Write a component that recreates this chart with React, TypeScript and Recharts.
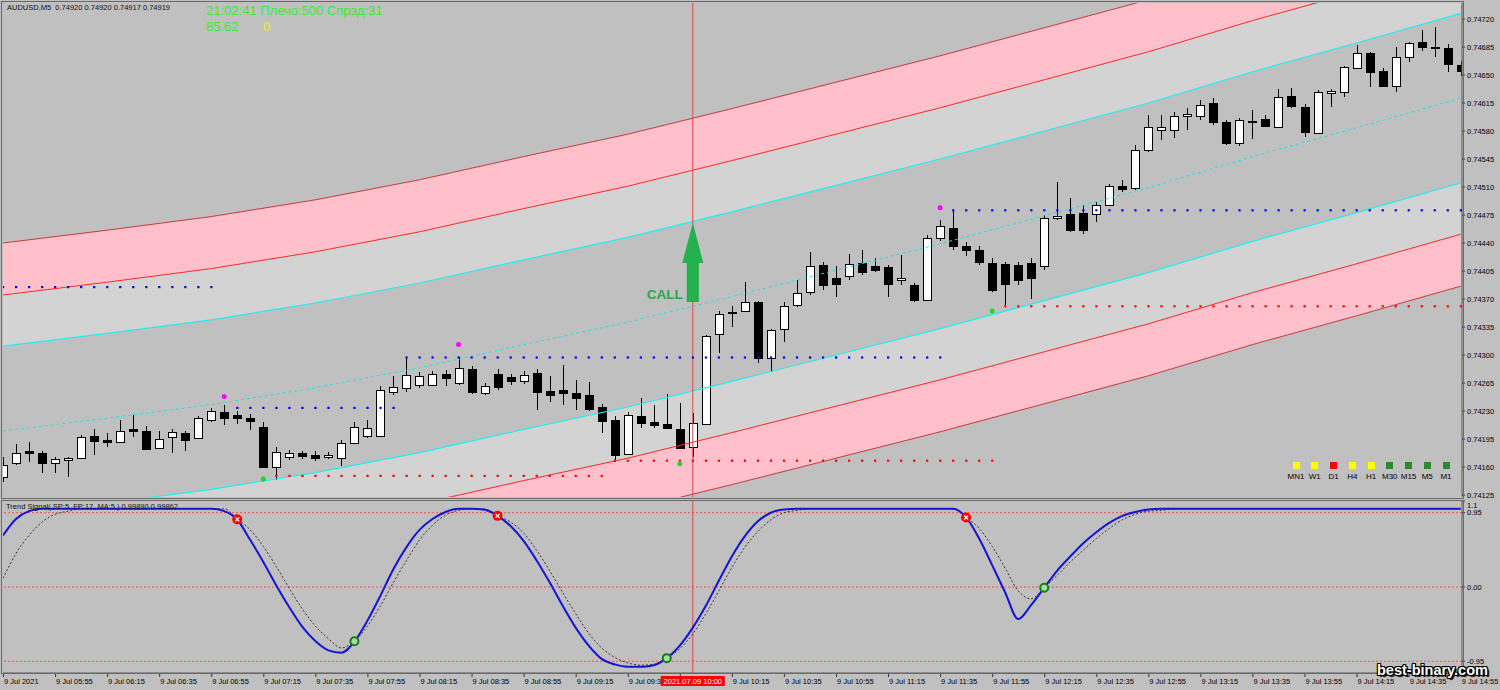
import React from 'react';
import { ComposedChart, Line, Area, Bar, Scatter, XAxis, YAxis, ReferenceLine } from 'recharts';

const FONT = '"Liberation Sans", Arial, sans-serif';

// ---------- candle data (AUDUSD M5, 05:35 .. 14:55) ----------
const openP = [0.74148,0.74165,0.74180,0.74178,0.74165,0.74169,0.74171,0.74199,0.74194,0.74191,0.74207,0.74205,0.74184,0.74197,0.74202,0.74196,0.74219,0.74229,0.74225,0.74221,0.74210,0.74160,0.74172,0.74178,0.74175,0.74172,0.74171,0.74190,0.74199,0.74199,0.74254,0.74259,0.74262,0.74262,0.74276,0.74265,0.74282,0.74252,0.74276,0.74272,0.74267,0.74277,0.74255,0.74256,0.74252,0.74250,0.74235,0.74219,0.74176,0.74224,0.74216,0.74214,0.74207,0.74185,0.74214,0.74326,0.74353,0.74355,0.74366,0.74296,0.74333,0.74362,0.74379,0.74413,0.74396,0.74399,0.74415,0.74411,0.74410,0.74394,0.74387,0.74369,0.74446,0.74459,0.74436,0.74431,0.74415,0.74414,0.74413,0.74415,0.74411,0.74471,0.74476,0.74477,0.74476,0.74487,0.74511,0.74509,0.74556,0.74581,0.74581,0.74599,0.74599,0.74615,0.74591,0.74565,0.74593,0.74595,0.74585,0.74624,0.74610,0.74577,0.74627,0.74629,0.74659,0.74677,0.74655,0.74636,0.74672,0.74691,0.74685,0.74684,0.74663];
const highP = [0.74172,0.74189,0.74191,0.74180,0.74172,0.74172,0.74200,0.74207,0.74202,0.74219,0.74225,0.74211,0.74205,0.74207,0.74205,0.74224,0.74234,0.74237,0.74230,0.74226,0.74216,0.74185,0.74181,0.74180,0.74180,0.74179,0.74194,0.74216,0.74219,0.74261,0.74274,0.74297,0.74279,0.74280,0.74281,0.74297,0.74286,0.74265,0.74282,0.74276,0.74280,0.74282,0.74274,0.74287,0.74269,0.74266,0.74239,0.74224,0.74229,0.74246,0.74237,0.74251,0.74240,0.74227,0.74325,0.74355,0.74361,0.74391,0.74368,0.74333,0.74366,0.74394,0.74429,0.74416,0.74411,0.74426,0.74431,0.74421,0.74413,0.74425,0.74390,0.74450,0.74469,0.74481,0.74441,0.74436,0.74421,0.74416,0.74416,0.74421,0.74475,0.74516,0.74496,0.74487,0.74491,0.74514,0.74519,0.74562,0.74600,0.74600,0.74604,0.74609,0.74619,0.74621,0.74594,0.74596,0.74606,0.74600,0.74632,0.74634,0.74614,0.74631,0.74632,0.74661,0.74687,0.74679,0.74659,0.74685,0.74691,0.74706,0.74710,0.74689,0.74668];
const lowP = [0.74141,0.74163,0.74166,0.74152,0.74152,0.74147,0.74170,0.74175,0.74185,0.74190,0.74197,0.74181,0.74182,0.74178,0.74180,0.74195,0.74216,0.74212,0.74214,0.74206,0.74159,0.74144,0.74169,0.74170,0.74167,0.74170,0.74161,0.74189,0.74196,0.74197,0.74250,0.74254,0.74259,0.74261,0.74261,0.74262,0.74251,0.74250,0.74256,0.74262,0.74264,0.74231,0.74241,0.74237,0.74231,0.74230,0.74202,0.74166,0.74175,0.74209,0.74209,0.74207,0.74182,0.74172,0.74212,0.74302,0.74335,0.74354,0.74290,0.74279,0.74316,0.74360,0.74375,0.74381,0.74372,0.74394,0.74400,0.74404,0.74372,0.74387,0.74366,0.74368,0.74443,0.74431,0.74424,0.74413,0.74379,0.74362,0.74387,0.74370,0.74406,0.74469,0.74454,0.74451,0.74466,0.74486,0.74504,0.74506,0.74554,0.74569,0.74571,0.74581,0.74594,0.74587,0.74562,0.74561,0.74570,0.74585,0.74584,0.74609,0.74572,0.74576,0.74610,0.74622,0.74657,0.74635,0.74635,0.74629,0.74666,0.74680,0.74672,0.74654,0.74649];
const closeP = [0.74162,0.74178,0.74178,0.74165,0.74170,0.74171,0.74197,0.74192,0.74191,0.74205,0.74205,0.74182,0.74195,0.74204,0.74194,0.74221,0.74230,0.74221,0.74221,0.74217,0.74160,0.74179,0.74178,0.74174,0.74171,0.74175,0.74190,0.74210,0.74209,0.74256,0.74260,0.74275,0.74274,0.74276,0.74271,0.74284,0.74254,0.74261,0.74260,0.74267,0.74275,0.74254,0.74250,0.74252,0.74246,0.74232,0.74217,0.74175,0.74225,0.74215,0.74212,0.74209,0.74184,0.74215,0.74324,0.74351,0.74354,0.74366,0.74296,0.74331,0.74361,0.74377,0.74411,0.74387,0.74389,0.74414,0.74404,0.74406,0.74389,0.74396,0.74369,0.74446,0.74461,0.74436,0.74431,0.74416,0.74381,0.74389,0.74394,0.74396,0.74471,0.74474,0.74456,0.74456,0.74487,0.74511,0.74507,0.74556,0.74585,0.74585,0.74599,0.74601,0.74612,0.74591,0.74565,0.74594,0.74591,0.74586,0.74622,0.74611,0.74579,0.74629,0.74630,0.74660,0.74677,0.74654,0.74636,0.74672,0.74690,0.74685,0.74684,0.74664,0.74655];

// ---------- time axis ----------
const timeLabels = ['9 Jul 2021','9 Jul 05:55','9 Jul 06:15','9 Jul 06:35','9 Jul 06:55','9 Jul 07:15','9 Jul 07:35','9 Jul 07:55','9 Jul 08:15','9 Jul 08:35','9 Jul 08:55','9 Jul 09:15','9 Jul 09:35','9 Jul 09:55','9 Jul 10:15','9 Jul 10:35','9 Jul 10:55','9 Jul 11:15','9 Jul 11:35','9 Jul 11:55','9 Jul 12:15','9 Jul 12:35','9 Jul 12:55','9 Jul 13:15','9 Jul 13:35','9 Jul 13:55','9 Jul 14:15','9 Jul 14:35','9 Jul 14:55'];
const timeTickIdx = [0,4,8,12,16,20,24,28,32,36,40,44,48,52,56,60,64,68,72,76,80,84,88,92,96,100,104,108,112];
const crossIdx = 53;
const crossLabel = '2021.07.09 10:00';

const priceTicks = [0.74125,0.7416,0.74195,0.7423,0.74265,0.743,0.74335,0.7437,0.74405,0.7444,0.74475,0.7451,0.74545,0.7458,0.74615,0.7465,0.74685,0.7472];

// ---------- channel ----------
const channelIdx = [0,8,16,24,32,40,48,56,64,72,80,88,96,104,112];
const channelMid = [0.74205,0.74221,0.74238,0.74259,0.74284,0.74313,0.74341,0.74373,0.74406,0.74439,0.74474,0.74509,0.74548,0.74584,0.74621];
const cyanWidth = 0.00106;
const innerWidth = 0.0017;
const outerWidth = 0.00235;

// ---------- levels & signals ----------
const resistanceLevels = [
  { from: 0, to: 16, price: 0.74385 },
  { from: 18, to: 30, price: 0.74234 },
  { from: 31, to: 72, price: 0.74297 },
  { from: 73, to: 112, price: 0.74481 },
];
const supportLevels = [
  { from: 21, to: 46, price: 0.74149 },
  { from: 47, to: 76, price: 0.74168 },
  { from: 77, to: 112, price: 0.74361 },
];
const magentaDots = [{ i: 17, p: 0.74248 }, { i: 35, p: 0.74313 }, { i: 72, p: 0.74484 }];
const greenDots = [{ i: 20, p: 0.74145 }, { i: 52, p: 0.74164 }, { i: 76, p: 0.74355 }];
const callArrow = [{ i: 53, p: 0.74465 }];

// ---------- oscillator ----------
const oscMain = [0.66,0.87,0.97,1.0,1.0,1.0,1.0,1.0,1.0,1.0,1.0,1.0,1.0,1.0,1.0,1.0,1.0,
  0.97,0.86,0.60,0.32,0.02,-0.26,-0.51,-0.69,-0.81,-0.84,
  -0.70,-0.43,-0.11,0.23,0.51,0.73,0.87,0.96,1.0,1.0,
  0.99,0.91,0.78,0.59,0.34,0.06,-0.24,-0.52,-0.75,-0.92,
  -0.99,-1.02,-1.02,-1.0,-0.91,-0.75,-0.52,-0.24,0.08,0.39,
  0.65,0.84,0.95,0.99,
  1.0,1.0,1.0,1.0,1.0,1.0,1.0,1.0,1.0,1.0,1.0,1.0,1.0,
  0.89,0.62,0.28,-0.07,-0.41,-0.23,-0.01,0.21,0.39,0.56,0.70,0.82,0.91,0.96,0.99,
  1.0,1.0,1.0,1.0,1.0,1.0,1.0,1.0,1.0,1.0,1.0,1.0,1.0,1.0,1.0,1.0,1.0,1.0,1.0,1.0,1.0,1.0,1.0,1.0];
const oscSignal = [0.11,0.43,0.66,0.83,0.93,0.97,1.0,1.0,1.0,1.0,1.0,1.0,1.0,1.0,1.0,1.0,1.0,1.0,
  0.87,0.73,0.52,0.26,-0.02,-0.28,-0.50,-0.66,-0.78,-0.69,
  -0.50,-0.24,0.06,0.34,0.60,0.79,0.92,0.98,1.0,0.98,
  0.91,0.83,0.69,0.47,0.21,-0.07,-0.34,-0.59,-0.78,-0.90,
  -0.97,-1.0,-0.99,-0.91,-0.79,-0.60,-0.34,-0.05,0.25,0.51,
  0.71,0.86,0.95,0.98,
  1.0,1.0,1.0,1.0,1.0,1.0,1.0,1.0,1.0,1.0,1.0,1.0,
  0.89,0.75,0.52,0.24,-0.05,-0.15,-0.01,0.15,0.32,0.47,0.62,0.75,0.86,0.93,0.97,0.98,
  1.0,1.0,1.0,1.0,1.0,1.0,1.0,1.0,1.0,1.0,1.0,1.0,1.0,1.0,1.0,1.0,1.0,1.0,1.0,1.0,1.0,1.0,1.0];
const sellMarks = [{ i: 18, v: 0.865 }, { i: 38, v: 0.91 }, { i: 74, v: 0.89 }];
const buyMarks = [{ i: 27, v: -0.695 }, { i: 51, v: -0.91 }, { i: 80, v: -0.01 }];
const oscTicks = [1.1, 0.95, 0, -0.95, -1.1];

const timeframes = ['MN1', 'W1', 'D1', 'H4', 'H1', 'M30', 'M15', 'M5', 'M1'];
const timeframeColors = ['#ffff00', '#ffff00', '#ff0000', '#ffff00', '#ffff00', '#2b8a2b', '#2b8a2b', '#2b8a2b', '#2b8a2b'];

// ---------- build tables ----------
const rows = openP.map((o, i) => {
  const r: any = { i, o, h: highP[i], l: lowP[i], c: closeP[i] };
  const k = channelIdx.indexOf(i);
  if (k >= 0) {
    const m = channelMid[k];
    r.mid = m;
    r.cyanU = m + cyanWidth;
    r.cyanL = m - cyanWidth;
    r.innerU = m + innerWidth;
    r.innerL = m - innerWidth;
    r.outerU = m + outerWidth;
    r.outerL = m - outerWidth;
    r.grayU = [m + cyanWidth, m + innerWidth];
    r.pinkU = [m + innerWidth, m + outerWidth];
    r.grayL = [m - innerWidth, m - cyanWidth];
    r.pinkL = [m - outerWidth, m - innerWidth];
  }
  return r;
});

const levelDots = (levels: { from: number; to: number; price: number }[]) => {
  const out: { i: number; p: number }[] = [];
  levels.forEach((lv) => {
    for (let i = lv.from; i <= lv.to; i++) out.push({ i, p: lv.price });
  });
  return out;
};
const resDots = levelDots(resistanceLevels);
const supDots = levelDots(supportLevels);

const oscRows = oscMain.map((v, i) => ({ i, main: v, signal: oscSignal[i] }));

// ---------- shapes ----------
const Candle = (props: any) => {
  const { x, y, width, height, payload } = props;
  if (x == null || y == null) return null;
  const { o, h, l, c } = payload;
  const hh = Math.abs(height);
  const top = height >= 0 ? y : y + height;
  const per = hh / (h - l);
  const cx = Math.round(x + width / 2);
  const yO = top + (h - o) * per;
  const yC = top + (h - c) * per;
  const bTop = Math.round(Math.min(yO, yC));
  const bBot = Math.round(Math.max(yO, yC));
  const up = c >= o;
  return (
    <g>
      <line x1={cx + 0.5} x2={cx + 0.5} y1={Math.round(top)} y2={Math.round(top + hh)} stroke="#000" strokeWidth={1} />
      <rect x={cx - 3.5} y={bTop + 0.5} width={8} height={Math.max(bBot - bTop, 1)} fill={up ? '#ffffff' : '#000000'} stroke="#000" strokeWidth={1} />
    </g>
  );
};

const blueDot = (p: any) => <rect x={p.cx - 1} y={p.cy - 1} width={2.2} height={2.2} fill="#0000ff" />;
const redDot = (p: any) => <rect x={p.cx - 1} y={p.cy - 1} width={2.2} height={2.2} fill="#ff0000" />;
const magentaDot = (p: any) => <circle cx={p.cx} cy={p.cy} r={2.5} fill="#ff00ff" />;
const greenDot = (p: any) => <circle cx={p.cx} cy={p.cy} r={2.5} fill="#33cc33" />;

const ArrowShape = (p: any) => {
  const { cx, cy } = p;
  const pts = `${cx},${cy} ${cx + 10.5},${cy + 40} ${cx + 6},${cy + 40} ${cx + 6},${cy + 79} ${cx - 6},${cy + 79} ${cx - 6},${cy + 40} ${cx - 10.5},${cy + 40}`;
  return (
    <g>
      <polygon points={pts} fill="#22b14c" />
      <text x={cx - 46} y={cy + 76} fontSize={13.5} fontWeight="bold" fill="#2aa84a" fontFamily={FONT}>CALL</text>
    </g>
  );
};

const SellMark = (p: any) => (
  <g>
    <circle cx={p.cx} cy={p.cy} r={5} fill="#ff0000" />
    <path d={`M${p.cx - 2},${p.cy - 2}L${p.cx + 2},${p.cy + 2}M${p.cx + 2},${p.cy - 2}L${p.cx - 2},${p.cy + 2}`} stroke="#fff" strokeWidth={1.3} />
  </g>
);
const BuyMark = (p: any) => (
  <circle cx={p.cx} cy={p.cy} r={4} fill="#a0e0a0" stroke="#1a7a1a" strokeWidth={2} />
);

const TimeTick = (props: any) => {
  const { x, y, payload } = props;
  const v = payload.value;
  if (v === crossIdx) {
    return (
      <g>
        <rect x={x - 32} y={y + 3} width={64} height={10} fill="#ff0000" />
        <text x={x} y={y + 11} textAnchor="middle" fill="#ffffff" fontSize={7.5} fontFamily={FONT}>{crossLabel}</text>
      </g>
    );
  }
  const k = timeTickIdx.indexOf(v);
  // the label right under the crosshair box is hidden by it, as in the terminal
  const hidden = v < crossIdx && crossIdx - v < 3;
  return (
    <g>
      <line x1={x + 0.5} x2={x + 0.5} y1={y} y2={y + 4} stroke="#333" />
      {!hidden && (
        <text x={x + 1} y={y + 11} textAnchor="start" fill="#000" fontSize={7.5} fontFamily={FONT}>{timeLabels[k]}</text>
      )}
    </g>
  );
};

const fmtOsc = (v: number) => (v === 0 ? '0.00' : Math.abs(v) > 1 ? v.toFixed(1) : v.toFixed(2));
const OscTick = (props: any) => {
  const { x, y, payload } = props;
  const v = payload.value;
  const shift = v > 1 ? 4 : v < -1 ? -4 : 0;
  return (
    <text x={x} y={y + shift} dy="0.35em" textAnchor="start" fill="#000" fontSize={7.5} fontFamily={FONT}>{fmtOsc(v)}</text>
  );
};

const abs = (s: any): React.CSSProperties => ({ position: 'absolute', fontFamily: FONT, whiteSpace: 'nowrap', lineHeight: 1, ...s });

export default function App() {
  return (
    <div style={{ position: 'absolute', left: 0, top: 0, width: 1500, height: 690, background: '#c0c0c0', overflow: 'hidden' }}>
      <div style={{ position: 'absolute', left: 0, top: 0 }}>
        <ComposedChart width={1500} height={500} data={rows} margin={{ top: 3, right: 1, bottom: 3, left: 3 }}>
          <XAxis type="number" dataKey="i" domain={[0, 112.1]} hide allowDataOverflow />
          <YAxis
            orientation="right"
            width={37}
            domain={[0.741225, 0.7474]}
            ticks={priceTicks}
            interval={0}
            allowDataOverflow
            tickFormatter={(v: number) => v.toFixed(5)}
            tick={{ fontSize: 7.5, fill: '#000', fontFamily: FONT }}
            tickSize={3}
            tickMargin={2}
            axisLine={{ stroke: '#5a5a5a' }}
            tickLine={{ stroke: '#333' }}
          />
          <Area dataKey="pinkU" type="linear" stroke="none" fill="#ffc0cb" fillOpacity={1} connectNulls isAnimationActive={false} />
          <Area dataKey="grayU" type="linear" stroke="none" fill="#d3d3d3" fillOpacity={1} connectNulls isAnimationActive={false} />
          <Area dataKey="grayL" type="linear" stroke="none" fill="#d3d3d3" fillOpacity={1} connectNulls isAnimationActive={false} />
          <Area dataKey="pinkL" type="linear" stroke="none" fill="#ffc0cb" fillOpacity={1} connectNulls isAnimationActive={false} />
          <Line dataKey="outerU" type="linear" stroke="#c43c3c" strokeWidth={1} dot={false} connectNulls isAnimationActive={false} />
          <Line dataKey="innerU" type="linear" stroke="#ff2a2a" strokeWidth={1} dot={false} connectNulls isAnimationActive={false} />
          <Line dataKey="cyanU" type="linear" stroke="#22eeee" strokeWidth={1.2} dot={false} connectNulls isAnimationActive={false} />
          <Line dataKey="mid" type="linear" stroke="#22e0e0" strokeWidth={1} strokeDasharray="3 3" dot={false} connectNulls isAnimationActive={false} />
          <Line dataKey="cyanL" type="linear" stroke="#22eeee" strokeWidth={1.2} dot={false} connectNulls isAnimationActive={false} />
          <Line dataKey="innerL" type="linear" stroke="#ff2a2a" strokeWidth={1} dot={false} connectNulls isAnimationActive={false} />
          <Line dataKey="outerL" type="linear" stroke="#c43c3c" strokeWidth={1} dot={false} connectNulls isAnimationActive={false} />
          <ReferenceLine x={crossIdx} stroke="#e04646" strokeWidth={1} />
          <Bar dataKey={(d: any) => [d.l, d.h]} barSize={9} shape={Candle} isAnimationActive={false} />
          <Scatter data={resDots} dataKey="p" shape={blueDot} isAnimationActive={false} />
          <Scatter data={supDots} dataKey="p" shape={redDot} isAnimationActive={false} />
          <Scatter data={magentaDots} dataKey="p" shape={magentaDot} isAnimationActive={false} />
          <Scatter data={greenDots} dataKey="p" shape={greenDot} isAnimationActive={false} />
          <Scatter data={callArrow} dataKey="p" shape={ArrowShape} isAnimationActive={false} />
        </ComposedChart>
      </div>
      <div style={{ position: 'absolute', left: 0, top: 500 }}>
        <ComposedChart width={1500} height={190} data={oscRows} margin={{ top: 1, right: 1, bottom: 0, left: 3 }}>
          <XAxis
            type="number"
            dataKey="i"
            domain={[0, 112.1]}
            ticks={[...timeTickIdx, crossIdx]}
            interval={0}
            allowDataOverflow
            height={17}
            tickSize={0}
            tickMargin={0}
            tickLine={false}
            axisLine={{ stroke: '#5a5a5a' }}
            tick={<TimeTick />}
          />
          <YAxis
            orientation="right"
            width={37}
            domain={[-1.1, 1.1]}
            ticks={oscTicks}
            interval={0}
            allowDataOverflow
            tickSize={3}
            tickMargin={2}
            axisLine={{ stroke: '#5a5a5a' }}
            tickLine={{ stroke: '#333' }}
            tick={<OscTick />}
          />
          <ReferenceLine y={0.95} stroke="#ff4a4a" strokeDasharray="2 2" />
          <ReferenceLine y={0} stroke="#ff4a4a" strokeDasharray="2 2" />
          <ReferenceLine y={-0.95} stroke="#ff4a4a" strokeDasharray="2 2" />
          <ReferenceLine x={crossIdx} stroke="#e04646" strokeWidth={1} />
          <Line dataKey="signal" type="monotone" stroke="#333" strokeWidth={1} strokeDasharray="2 2" dot={false} isAnimationActive={false} />
          <Line dataKey="main" type="monotone" stroke="#1414d6" strokeWidth={2} dot={false} isAnimationActive={false} />
          <Scatter data={sellMarks} dataKey="v" shape={SellMark} isAnimationActive={false} />
          <Scatter data={buyMarks} dataKey="v" shape={BuyMark} isAnimationActive={false} />
        </ComposedChart>
      </div>

      {/* frames */}
      <div style={{ position: 'absolute', left: 1, top: 1, width: 1463, height: 498, border: '1px solid #6a6a6a', boxSizing: 'border-box', pointerEvents: 'none' }} />
      <div style={{ position: 'absolute', left: 1, top: 500, width: 1463, height: 174, border: '1px solid #6a6a6a', boxSizing: 'border-box', pointerEvents: 'none' }} />

      {/* header texts */}
      <div style={abs({ left: 7, top: 4, fontSize: 7.5, color: '#111' })}>AUDUSD,M5&nbsp;&nbsp;0.74920 0.74920 0.74917 0.74919</div>
      <div style={abs({ left: 206, top: 4, fontSize: 13, color: '#33ee33' })}>21:02:41 Плечо:500 Спрэд:31</div>
      <div style={abs({ left: 206, top: 20, fontSize: 13, color: '#33ee33' })}>85.62</div>
      <div style={abs({ left: 263, top: 20, fontSize: 13, color: '#eeee22' })}>0</div>
      <div style={abs({ left: 6, top: 503, fontSize: 7.5, color: '#111' })}>Trend Signal( SP:5, FP:17, MA:5 ) 0.99890 0.99862</div>

      {/* timeframe legend */}
      {timeframes.map((tf, k) => (
        <div key={tf} style={abs({ left: 1287 + k * 18.75, top: 462, width: 18, textAlign: 'center' })}>
          <div style={{ width: 7, height: 7, background: timeframeColors[k], margin: '0 auto' }} />
          <div style={{ fontSize: 8, color: '#000', marginTop: 4 }}>{tf}</div>
        </div>
      ))}

      {/* watermark */}
      <div
        style={abs({
          left: 1377,
          top: 663,
          fontSize: 14.5,
          fontWeight: 'bold',
          color: '#ffffff',
          textShadow: '1px 1px 0 #000, -1px -1px 0 #000, 1px -1px 0 #000, -1px 1px 0 #000, 0 1px 0 #000, 1px 0 0 #000, 0 -1px 0 #000, -1px 0 0 #000, 2px 2px 1px #000',
        })}
      >
        best-binary.com
      </div>
    </div>
  );
}
